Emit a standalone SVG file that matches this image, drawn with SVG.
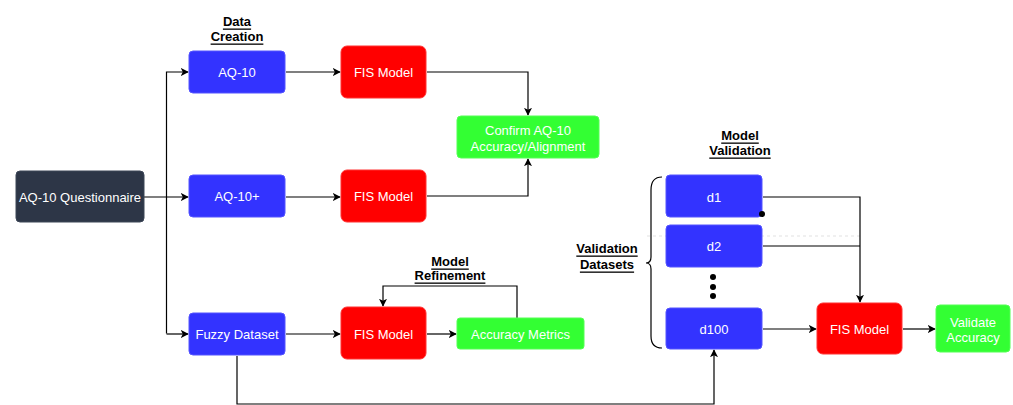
<svg xmlns="http://www.w3.org/2000/svg" width="1013" height="405" viewBox="0 0 1013 405">
<style>
text{font-family:"Liberation Sans",Arial,sans-serif;font-size:13px;text-anchor:middle;dominant-baseline:central}
.n text{fill:#fff}
.lbl{font-weight:bold;fill:#000;text-decoration:underline}
.blue{fill:#3333ff;stroke:#5555ff;stroke-width:1}
.red{fill:#ff0000;stroke:#ff3333;stroke-width:1}
.green{fill:#33ff33;stroke:#55ff55;stroke-width:1}
.dark{fill:#2d3647;stroke:#3d4657;stroke-width:1}
.c path{fill:none;stroke:#000;stroke-width:1.2}
.c .a{marker-end:url(#arr)}
</style>
<defs>
<marker id="arr" viewBox="0 0 10 10" refX="9" refY="5" markerWidth="8" markerHeight="8" markerUnits="userSpaceOnUse" orient="auto">
<path d="M0,0 L10,5 L0,10 L2.5,5 z" fill="#000"/>
</marker>
</defs>
<rect width="1013" height="405" fill="#fff"/>
<line x1="647" y1="236" x2="863" y2="236" stroke="#ccc" stroke-width="0.6" stroke-dasharray="3 3"/>
<g class="c">
<path class="a" d="M144,197 L188,197"/>
<path class="a" d="M166.5,333.5 L166.5,72 L188,72"/>
<path class="a" d="M166.5,334 L188,334"/>
<path class="a" d="M286,72 L340,72"/>
<path class="a" d="M286,197 L340,197"/>
<path class="a" d="M286,334 L340,334"/>
<path class="a" d="M427,72 L528,72 L528,115"/>
<path class="a" d="M427,196 L528,196 L528,159"/>
<path class="a" d="M427,334 L456,334"/>
<path class="a" d="M517,318 L517,286 L383,286 L383,306"/>
<path class="a" d="M763,197 L860,197 L860,302"/>
<path d="M763,246 L860,246"/>
<path class="a" d="M763,329 L816,329"/>
<path class="a" d="M903,329 L935,329"/>
<path class="a" d="M237,356 L237,404 L714,404 L714,350"/>
<path d="M662,177 Q651,177 651,190 L651,257 Q651,263 646,263 Q651,263 651,269 L651,336 Q651,348 662,348" stroke-width="1"/>
</g>
<g id="aq10q" class="n"><rect class="dark" x="16" y="171" width="128" height="51" rx="4"/><text x="80" y="197">AQ-10 Questionnaire</text></g>
<g id="aq10" class="n"><rect class="blue" x="189" y="51" width="96" height="42" rx="4"/><text x="237" y="72">AQ-10</text></g>
<g id="aq10p" class="n"><rect class="blue" x="189" y="175" width="96" height="42" rx="4"/><text x="237" y="196">AQ-10+</text></g>
<g id="fuzzy" class="n"><rect class="blue" x="189" y="313" width="96" height="42" rx="4"/><text x="237" y="334">Fuzzy Dataset</text></g>
<g id="fis1" class="n"><rect class="red" x="341" y="46" width="85" height="52" rx="6"/><text x="383.5" y="72">FIS Model</text></g>
<g id="fis2" class="n"><rect class="red" x="341" y="170" width="85" height="52" rx="6"/><text x="383.5" y="196">FIS Model</text></g>
<g id="fis3" class="n"><rect class="red" x="341" y="307" width="85" height="52" rx="6"/><text x="383.5" y="334">FIS Model</text></g>
<g id="confirm" class="n"><rect class="green" x="457" y="116" width="142" height="42" rx="4"/><text x="528" y="130">Confirm AQ-10</text><text x="528" y="146">Accuracy/Alignment</text></g>
<g id="acc" class="n"><rect class="green" x="457" y="318" width="127" height="31" rx="3"/><text x="520.5" y="334">Accuracy Metrics</text></g>
<g id="d1" class="n"><rect class="blue" x="666" y="175" width="96" height="42" rx="4"/><text x="714" y="197">d1</text></g>
<g id="d2" class="n"><rect class="blue" x="666" y="225" width="96" height="42" rx="4"/><text x="714" y="246">d2</text></g>
<g id="d100" class="n"><rect class="blue" x="666" y="308" width="96" height="41" rx="4"/><text x="714" y="329">d100</text></g>
<g id="fis4" class="n"><rect class="red" x="817" y="303" width="85" height="51" rx="6"/><text x="859.5" y="329">FIS Model</text></g>
<g id="validate" class="n"><rect class="green" x="936" y="305" width="74" height="47" rx="4"/><text x="973" y="322">Validate</text><text x="973" y="337">Accuracy</text></g>
<g id="dots"><circle cx="713" cy="277" r="3"/><circle cx="713" cy="287" r="3"/><circle cx="713" cy="296" r="3"/><circle cx="762" cy="214" r="3"/></g>
<g id="labels">
<text class="lbl" x="237" y="21">Data </text><text class="lbl" x="237" y="36">Creation</text>
<text class="lbl" x="450" y="261">Model</text><text class="lbl" x="450" y="275">Refinement</text>
<text class="lbl" x="607" y="248">Validation</text><text class="lbl" x="607" y="264">Datasets</text>
<text class="lbl" x="740" y="135">Model</text><text class="lbl" x="740" y="150">Validation</text>
</g>
</svg>
